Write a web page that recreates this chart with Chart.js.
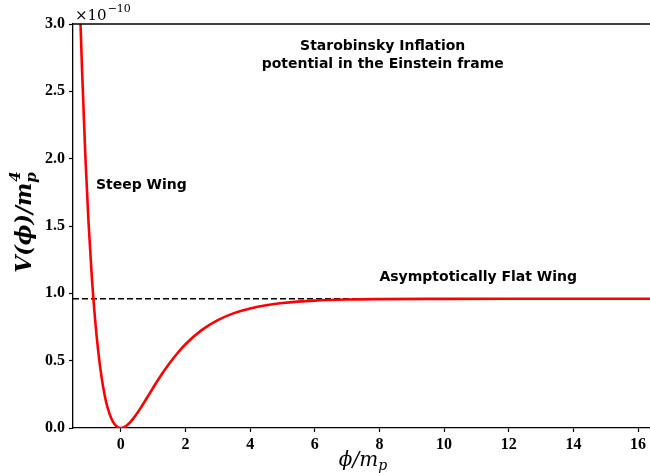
<!DOCTYPE html>
<html>
<head>
<meta charset="utf-8">
<script src="https://cdn.jsdelivr.net/npm/chart.js@4.4.1/dist/chart.umd.min.js"></script>
<style>
html,body{margin:0;padding:0;background:#fff;}
#wrap{width:650px;height:473px;position:relative;}
</style>
</head>
<body>
<div id="wrap"><canvas id="c" width="650" height="473"></canvas></div>
<script>
// Field values phi/m_p and potential V (in units of 1e-10 m_p^4)
const phi = [-1.3,-1.25,-1.2,-1.1,-1.0,-0.9,-0.8,-0.7,-0.6,-0.5,-0.4,-0.3,-0.2,-0.1,0,0.1,0.2,0.3,0.4,0.6,0.8,1.0,1.25,1.5,1.75,2.0,2.5,3.0,3.5,4.0,4.5,5.0,6.0,7.0,8.0,10.0,12.0,14.0,16.4];
const potential = [3.43,3.02,2.66,2.03,1.53,1.13,0.815,0.571,0.383,0.244,0.143,0.074,0.030,0.007,0.0,0.006,0.022,0.045,0.075,0.144,0.221,0.299,0.393,0.479,0.555,0.622,0.727,0.801,0.853,0.888,0.912,0.928,0.946,0.954,0.957,0.959,0.960,0.960,0.960];
const plateau = 0.96;
const plateauX = [-1.48, 16.37];
const xTicks = [0,2,4,6,8,10,12,14,16];
const yTicks = [0.0,0.5,1.0,1.5,2.0,2.5,3.0];
const titleLines = ["Starobinsky Inflation","potential in the Einstein frame"];
const steepLabel = "Steep Wing";
const flatLabel = "Asymptotically Flat Wing";

const curve = phi.map((x,i)=>({x:x,y:potential[i]}));
const flat = plateauX.map(x=>({x:x,y:plateau}));

const SERIF = '"DejaVu Serif", "Liberation Serif", serif';
const textPlugin = {
  id:'texts',
  afterDraw(chart){
    const ctx = chart.ctx, ca = chart.chartArea;
    const xs = chart.scales.x, ys = chart.scales.y;
    ctx.save();
    // top spine
    ctx.strokeStyle='#000'; ctx.lineWidth=1.3;
    ctx.beginPath(); ctx.moveTo(ca.left, ca.top); ctx.lineTo(ca.right, ca.top); ctx.stroke();
    ctx.fillStyle='#000';
    // annotations
    ctx.font='bold 14px "DejaVu Sans", "Liberation Sans", sans-serif';
    ctx.textAlign='center'; ctx.textBaseline='middle';
    ctx.fillText(titleLines[0], xs.getPixelForValue(8.1), ys.getPixelForValue(2.835));
    ctx.fillText(titleLines[1], xs.getPixelForValue(8.1), ys.getPixelForValue(2.70));
    ctx.textAlign='left';
    ctx.fillText(steepLabel, xs.getPixelForValue(-0.77), ys.getPixelForValue(1.805));
    ctx.fillText(flatLabel, xs.getPixelForValue(8.0), ys.getPixelForValue(1.115));
    // offset text
    ctx.textBaseline='alphabetic';
    ctx.font='15px ' + SERIF;
    ctx.fillText('\u00d710', ca.left+2, 20);
    const ow = ctx.measureText('\u00d710').width;
    ctx.font='11px ' + SERIF;
    ctx.fillText('\u221210', ca.left+2+ow+1, 12);
    // x axis label phi/m_p
    ctx.font='italic 20px ' + SERIF;
    const xm = '\u03d5/m';
    const xw = ctx.measureText(xm).width;
    ctx.font='italic 14px ' + SERIF;
    const xpw = ctx.measureText('p').width;
    let xl = 363 - (xw+xpw)/2, yl = 466;
    ctx.font='italic 20px ' + SERIF;
    ctx.fillText(xm, xl, yl);
    ctx.font='italic 14px ' + SERIF;
    ctx.fillText('p', xl+xw, yl+4);
    // y axis label V(phi)/m_p^4
    ctx.translate(31, 222);
    ctx.rotate(-Math.PI/2);
    ctx.font='bold italic 22px ' + SERIF;
    const main = 'V(\u03d5)/m';
    const mw = ctx.measureText(main).width;
    ctx.font='bold italic 15px ' + SERIF;
    const pw = ctx.measureText('p').width;
    const total = mw + pw + 1;
    let sx = -total/2;
    ctx.font='bold italic 22px ' + SERIF;
    ctx.fillText(main, sx, 0);
    ctx.font='bold italic 15px ' + SERIF;
    ctx.fillText('p', sx+mw, 5);
    ctx.fillText('4', sx+mw+1, -11);
    ctx.restore();
  }
};

new Chart(document.getElementById('c'), {
  type:'scatter',
  data:{datasets:[
    {data:flat, showLine:true, borderColor:'#000', borderWidth:1.5, borderDash:[6,3], pointRadius:0, order:2},
    {data:curve, showLine:true, borderColor:'#ff0000', borderWidth:2.6, pointRadius:0, cubicInterpolationMode:'monotone', clip:0, order:1}
  ]},
  options:{
    responsive:false, animation:false, devicePixelRatio:1,
    layout:{padding:{top:24,left:0,right:0,bottom:0}},
    plugins:{legend:{display:false}, tooltip:{enabled:false}},
    scales:{
      x:{type:'linear', min:plateauX[0], max:plateauX[1],
        afterBuildTicks:s=>{s.ticks = xTicks.map(v=>({value:v}));},
        afterFit:s=>{s.height=45;},
        grid:{display:true, drawOnChartArea:false, drawTicks:true, tickLength:4, tickColor:'#000', tickWidth:1.2},
        border:{display:true, color:'#000', width:1.3},
        ticks:{color:'#000', padding:3, maxRotation:0, font:{family:'"Liberation Serif", "DejaVu Serif", serif', size:16, weight:'bold'}}
      },
      y:{type:'linear', min:0, max:3,
        afterBuildTicks:s=>{s.ticks = yTicks.map(v=>({value:v}));},
        afterFit:s=>{s.width=73;},
        grid:{display:true, drawOnChartArea:false, drawTicks:true, tickLength:4, tickColor:'#000', tickWidth:1.2},
        border:{display:true, color:'#000', width:1.3},
        ticks:{color:'#000', padding:4, callback:v=>v.toFixed(1), font:{family:'"Liberation Serif", "DejaVu Serif", serif', size:16, weight:'bold'}}
      }
    }
  },
  plugins:[textPlugin]
});
</script>
</body>
</html>
